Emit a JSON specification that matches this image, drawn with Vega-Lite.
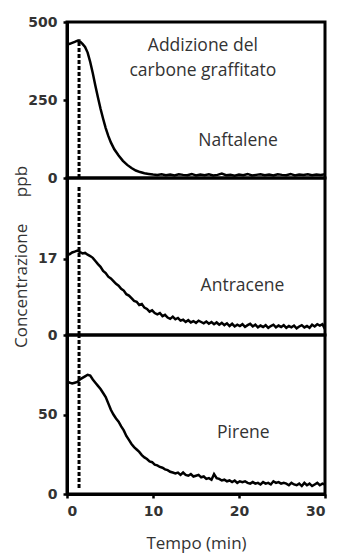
{
  "$schema": "https://vega.github.io/schema/vega-lite/v6.json",
  "padding": {"top": 13, "left": 11, "right": 5, "bottom": 5},
  "background": "white",
  "bounds": "flush",
  "spacing": 0,
  "datasets": {
    "naftalene": [
      {"t": 0, "c": 432}, {"t": 0.3, "c": 430}, {"t": 0.6, "c": 433}, {"t": 0.9, "c": 436},
      {"t": 1.2, "c": 440}, {"t": 1.5, "c": 438}, {"t": 1.8, "c": 430}, {"t": 2.1, "c": 420},
      {"t": 2.4, "c": 402}, {"t": 2.7, "c": 372}, {"t": 3.0, "c": 336}, {"t": 3.3, "c": 296},
      {"t": 3.6, "c": 258}, {"t": 3.9, "c": 222}, {"t": 4.2, "c": 190}, {"t": 4.5, "c": 160},
      {"t": 4.8, "c": 135}, {"t": 5.1, "c": 114}, {"t": 5.5, "c": 92}, {"t": 6.0, "c": 72},
      {"t": 6.5, "c": 55}, {"t": 7.0, "c": 42}, {"t": 7.5, "c": 32}, {"t": 8.0, "c": 24},
      {"t": 8.5, "c": 19}, {"t": 9.0, "c": 15}, {"t": 9.5, "c": 13}, {"t": 10, "c": 11},
      {"t": 10.5, "c": 10}, {"t": 11, "c": 12}, {"t": 11.5, "c": 9}, {"t": 12, "c": 11},
      {"t": 12.5, "c": 8}, {"t": 13, "c": 12}, {"t": 13.5, "c": 10}, {"t": 14, "c": 9},
      {"t": 14.5, "c": 13}, {"t": 15, "c": 8}, {"t": 15.5, "c": 11}, {"t": 16, "c": 9},
      {"t": 16.5, "c": 12}, {"t": 17, "c": 8}, {"t": 17.5, "c": 10}, {"t": 18, "c": 14},
      {"t": 18.5, "c": 9}, {"t": 19, "c": 10}, {"t": 19.5, "c": 7}, {"t": 20, "c": 11},
      {"t": 20.5, "c": 9}, {"t": 21, "c": 13}, {"t": 21.5, "c": 8}, {"t": 22, "c": 10},
      {"t": 22.5, "c": 12}, {"t": 23, "c": 9}, {"t": 23.5, "c": 11}, {"t": 24, "c": 8},
      {"t": 24.5, "c": 12}, {"t": 25, "c": 10}, {"t": 25.5, "c": 9}, {"t": 26, "c": 13},
      {"t": 26.5, "c": 8}, {"t": 27, "c": 11}, {"t": 27.5, "c": 10}, {"t": 28, "c": 12},
      {"t": 28.5, "c": 9}, {"t": 29, "c": 11}, {"t": 29.5, "c": 10}, {"t": 30, "c": 12}
    ],
    "antracene": [
      {"t": 0, "c": 18.3}, {"t": 0.3, "c": 18.0}, {"t": 0.6, "c": 18.4}, {"t": 0.9, "c": 18.6},
      {"t": 1.2, "c": 18.8}, {"t": 1.5, "c": 18.5}, {"t": 1.8, "c": 18.2}, {"t": 2.1, "c": 18.3},
      {"t": 2.4, "c": 17.9}, {"t": 2.7, "c": 17.6}, {"t": 3.0, "c": 17.2}, {"t": 3.3, "c": 16.5},
      {"t": 3.6, "c": 15.8}, {"t": 3.9, "c": 15.2}, {"t": 4.2, "c": 14.3}, {"t": 4.5, "c": 13.8},
      {"t": 4.8, "c": 13.0}, {"t": 5.1, "c": 12.6}, {"t": 5.4, "c": 12.0}, {"t": 5.7, "c": 11.4},
      {"t": 6.0, "c": 11.0}, {"t": 6.3, "c": 10.3}, {"t": 6.6, "c": 9.9}, {"t": 6.9, "c": 9.1},
      {"t": 7.2, "c": 8.8}, {"t": 7.5, "c": 8.2}, {"t": 7.8, "c": 7.6}, {"t": 8.1, "c": 7.4},
      {"t": 8.4, "c": 6.7}, {"t": 8.7, "c": 6.9}, {"t": 9.0, "c": 6.1}, {"t": 9.3, "c": 5.8},
      {"t": 9.6, "c": 5.2}, {"t": 9.9, "c": 5.5}, {"t": 10.2, "c": 4.9}, {"t": 10.5, "c": 4.6},
      {"t": 10.8, "c": 4.9}, {"t": 11.1, "c": 4.2}, {"t": 11.4, "c": 4.5}, {"t": 11.7, "c": 3.9},
      {"t": 12.0, "c": 3.6}, {"t": 12.3, "c": 4.1}, {"t": 12.6, "c": 3.5}, {"t": 12.9, "c": 3.8},
      {"t": 13.2, "c": 3.2}, {"t": 13.5, "c": 3.4}, {"t": 13.8, "c": 2.9}, {"t": 14.1, "c": 3.3},
      {"t": 14.4, "c": 2.8}, {"t": 14.7, "c": 3.1}, {"t": 15.0, "c": 2.7}, {"t": 15.3, "c": 3.2},
      {"t": 15.6, "c": 2.9}, {"t": 15.9, "c": 2.6}, {"t": 16.2, "c": 3.0}, {"t": 16.5, "c": 2.5},
      {"t": 16.8, "c": 2.9}, {"t": 17.1, "c": 2.4}, {"t": 17.4, "c": 2.8}, {"t": 17.7, "c": 2.3},
      {"t": 18.0, "c": 2.7}, {"t": 18.3, "c": 2.2}, {"t": 18.6, "c": 2.6}, {"t": 18.9, "c": 2.0},
      {"t": 19.2, "c": 2.5}, {"t": 19.5, "c": 1.9}, {"t": 19.8, "c": 2.3}, {"t": 20.1, "c": 2.0},
      {"t": 20.4, "c": 2.4}, {"t": 20.7, "c": 1.8}, {"t": 21.0, "c": 2.2}, {"t": 21.3, "c": 2.5},
      {"t": 21.6, "c": 1.9}, {"t": 21.9, "c": 2.3}, {"t": 22.2, "c": 1.7}, {"t": 22.5, "c": 2.1},
      {"t": 22.8, "c": 1.8}, {"t": 23.1, "c": 2.2}, {"t": 23.4, "c": 1.6}, {"t": 23.7, "c": 2.0},
      {"t": 24.0, "c": 2.3}, {"t": 24.3, "c": 1.7}, {"t": 24.6, "c": 2.1}, {"t": 24.9, "c": 1.8},
      {"t": 25.2, "c": 2.2}, {"t": 25.5, "c": 1.6}, {"t": 25.8, "c": 2.0}, {"t": 26.1, "c": 1.7},
      {"t": 26.4, "c": 2.1}, {"t": 26.7, "c": 1.5}, {"t": 27.0, "c": 1.9}, {"t": 27.3, "c": 2.2},
      {"t": 27.6, "c": 1.7}, {"t": 27.9, "c": 2.0}, {"t": 28.2, "c": 1.6}, {"t": 28.5, "c": 2.3},
      {"t": 28.8, "c": 1.9}, {"t": 29.1, "c": 2.4}, {"t": 29.4, "c": 2.1}, {"t": 29.7, "c": 2.4},
      {"t": 30.0, "c": 1.3}
    ],
    "pirene": [
      {"t": 0, "c": 71}, {"t": 0.3, "c": 70}, {"t": 0.6, "c": 69.5}, {"t": 0.9, "c": 70},
      {"t": 1.2, "c": 70.5}, {"t": 1.5, "c": 72}, {"t": 1.8, "c": 73}, {"t": 2.1, "c": 74},
      {"t": 2.4, "c": 75}, {"t": 2.7, "c": 74.5}, {"t": 3.0, "c": 72}, {"t": 3.3, "c": 70},
      {"t": 3.6, "c": 68}, {"t": 3.9, "c": 66}, {"t": 4.2, "c": 63.5}, {"t": 4.5, "c": 61},
      {"t": 4.8, "c": 57}, {"t": 5.1, "c": 53}, {"t": 5.4, "c": 50}, {"t": 5.7, "c": 47.5},
      {"t": 6.0, "c": 45.5}, {"t": 6.3, "c": 42.5}, {"t": 6.6, "c": 40}, {"t": 6.9, "c": 36.5},
      {"t": 7.2, "c": 34}, {"t": 7.5, "c": 31.5}, {"t": 7.8, "c": 29.5}, {"t": 8.1, "c": 28},
      {"t": 8.4, "c": 26.5}, {"t": 8.7, "c": 24.5}, {"t": 9.0, "c": 23}, {"t": 9.3, "c": 22},
      {"t": 9.6, "c": 20.5}, {"t": 9.9, "c": 20}, {"t": 10.2, "c": 18.5}, {"t": 10.5, "c": 18},
      {"t": 10.8, "c": 17}, {"t": 11.1, "c": 16.5}, {"t": 11.4, "c": 15.5}, {"t": 11.7, "c": 15},
      {"t": 12.0, "c": 14}, {"t": 12.3, "c": 13.5}, {"t": 12.6, "c": 13}, {"t": 12.9, "c": 13.5},
      {"t": 13.2, "c": 12}, {"t": 13.5, "c": 13.5}, {"t": 13.8, "c": 12}, {"t": 14.1, "c": 11.5},
      {"t": 14.4, "c": 12.5}, {"t": 14.7, "c": 11}, {"t": 15.0, "c": 11.5}, {"t": 15.3, "c": 12},
      {"t": 15.6, "c": 10.5}, {"t": 15.9, "c": 11}, {"t": 16.2, "c": 9.5}, {"t": 16.5, "c": 10},
      {"t": 16.8, "c": 9}, {"t": 17.1, "c": 12.5}, {"t": 17.4, "c": 10}, {"t": 17.7, "c": 9.5},
      {"t": 18.0, "c": 8.5}, {"t": 18.3, "c": 9}, {"t": 18.6, "c": 8}, {"t": 18.9, "c": 8.5},
      {"t": 19.2, "c": 7.5}, {"t": 19.5, "c": 8.5}, {"t": 19.8, "c": 7}, {"t": 20.1, "c": 8},
      {"t": 20.4, "c": 7.5}, {"t": 20.7, "c": 8}, {"t": 21.0, "c": 7}, {"t": 21.3, "c": 6.5},
      {"t": 21.6, "c": 7.5}, {"t": 21.9, "c": 6.5}, {"t": 22.2, "c": 7}, {"t": 22.5, "c": 6},
      {"t": 22.8, "c": 7.5}, {"t": 23.1, "c": 6.5}, {"t": 23.4, "c": 7}, {"t": 23.7, "c": 6},
      {"t": 24.0, "c": 8}, {"t": 24.3, "c": 7}, {"t": 24.6, "c": 7.5}, {"t": 24.9, "c": 6.5},
      {"t": 25.2, "c": 7}, {"t": 25.5, "c": 6.5}, {"t": 25.8, "c": 5.5}, {"t": 26.1, "c": 7},
      {"t": 26.4, "c": 6}, {"t": 26.7, "c": 5.5}, {"t": 27.0, "c": 6.5}, {"t": 27.3, "c": 5},
      {"t": 27.6, "c": 7}, {"t": 27.9, "c": 5.5}, {"t": 28.2, "c": 6.5}, {"t": 28.5, "c": 5},
      {"t": 28.8, "c": 6}, {"t": 29.1, "c": 7}, {"t": 29.4, "c": 5.5}, {"t": 29.7, "c": 6.5},
      {"t": 30.0, "c": 6}
    ],
    "aggiunta": [
      {"pannello": "naftalene", "t": 1.4, "da": 0, "a": 445},
      {"pannello": "antracene", "t": 1.4, "da": 0, "a": 33},
      {"pannello": "pirene", "t": 1.4, "da": 3.8, "a": 100}
    ],
    "etichette": [
      {"pannello": "naftalene", "t": 15.8, "c": 422, "testo": "Addizione del"},
      {"pannello": "naftalene", "t": 15.8, "c": 342, "testo": "carbone graffitato"},
      {"pannello": "naftalene", "t": 19.9, "c": 118, "testo": "Naftalene"},
      {"pannello": "antracene", "t": 20.4, "c": 11, "testo": "Antracene"},
      {"pannello": "pirene", "t": 20.5, "c": 38.6, "testo": "Pirene"}
    ]
  },
  "vconcat": [
    {
      "width": 258,
      "height": 156,
      "layer": [
        {
          "data": {"name": "aggiunta"},
          "transform": [{"filter": "datum.pannello === 'naftalene'"}],
          "mark": {"type": "rule", "color": "black", "strokeWidth": 3, "strokeDash": [4, 2]},
          "encoding": {
            "x": {"field": "t", "type": "quantitative", "scale": {"domain": [0, 30]}, "axis": null},
            "y": {"field": "da", "type": "quantitative", "scale": {"domain": [0, 500]},
                  "axis": {"values": [0, 250, 500], "title": null}},
            "y2": {"field": "a"}
          }
        },
        {
          "data": {"name": "naftalene"},
          "mark": {"type": "line", "color": "black", "strokeWidth": 2.5},
          "encoding": {
            "x": {"field": "t", "type": "quantitative"},
            "y": {"field": "c", "type": "quantitative"}
          }
        },
        {
          "data": {"name": "etichette"},
          "transform": [{"filter": "datum.pannello === 'naftalene'"}],
          "mark": {"type": "text", "font": "Open Sans", "fontSize": 17.5, "color": "#333"},
          "encoding": {
            "x": {"field": "t", "type": "quantitative"},
            "y": {"field": "c", "type": "quantitative"},
            "text": {"field": "testo"}
          }
        }
      ]
    },
    {
      "width": 258,
      "height": 157,
      "layer": [
        {
          "data": {"name": "aggiunta"},
          "transform": [{"filter": "datum.pannello === 'antracene'"}],
          "mark": {"type": "rule", "color": "black", "strokeWidth": 3, "strokeDash": [4, 2]},
          "encoding": {
            "x": {"field": "t", "type": "quantitative", "scale": {"domain": [0, 30]}, "axis": null},
            "y": {"field": "da", "type": "quantitative", "scale": {"domain": [0, 33]},
                  "axis": {"values": [0, 17], "title": "Concentrazione\u00a0\u00a0\u00a0\u00a0\u00a0\u00a0ppb", "titlePadding": 7}},
            "y2": {"field": "a"}
          }
        },
        {
          "data": {"name": "antracene"},
          "mark": {"type": "line", "color": "black", "strokeWidth": 2.5},
          "encoding": {
            "x": {"field": "t", "type": "quantitative"},
            "y": {"field": "c", "type": "quantitative"}
          }
        },
        {
          "data": {"name": "etichette"},
          "transform": [{"filter": "datum.pannello === 'antracene'"}],
          "mark": {"type": "text", "font": "Open Sans", "fontSize": 17.5, "color": "#333"},
          "encoding": {
            "x": {"field": "t", "type": "quantitative"},
            "y": {"field": "c", "type": "quantitative"},
            "text": {"field": "testo"}
          }
        }
      ]
    },
    {
      "width": 258,
      "height": 159,
      "layer": [
        {
          "data": {"name": "aggiunta"},
          "transform": [{"filter": "datum.pannello === 'pirene'"}],
          "mark": {"type": "rule", "color": "black", "strokeWidth": 3, "strokeDash": [4, 2]},
          "encoding": {
            "x": {"field": "t", "type": "quantitative", "scale": {"domain": [0, 30]},
                  "axis": {"values": [0, 10, 20, 30], "title": "Tempo (min)", "labelPadding": 6, "titlePadding": 17}},
            "y": {"field": "da", "type": "quantitative", "scale": {"domain": [0, 100]},
                  "axis": {"values": [0, 50], "title": null}},
            "y2": {"field": "a"}
          }
        },
        {
          "data": {"name": "pirene"},
          "mark": {"type": "line", "color": "black", "strokeWidth": 2.5},
          "encoding": {
            "x": {"field": "t", "type": "quantitative"},
            "y": {"field": "c", "type": "quantitative"}
          }
        },
        {
          "data": {"name": "etichette"},
          "transform": [{"filter": "datum.pannello === 'pirene'"}],
          "mark": {"type": "text", "font": "Open Sans", "fontSize": 17.5, "color": "#333"},
          "encoding": {
            "x": {"field": "t", "type": "quantitative"},
            "y": {"field": "c", "type": "quantitative"},
            "text": {"field": "testo"}
          }
        }
      ]
    }
  ],
  "config": {
    "concat": {"spacing": 0},
    "view": {"stroke": "black", "strokeWidth": 3},
    "axis": {
      "grid": false,
      "domainColor": "black",
      "domainWidth": 3,
      "tickColor": "black",
      "tickWidth": 2.5,
      "tickSize": 4,
      "labelFont": "DejaVu Sans",
      "labelFontWeight": "bold",
      "labelFontSize": 14,
      "labelColor": "#333",
      "labelPadding": 6,
      "titleFont": "Open Sans",
      "titleFontWeight": "normal",
      "titleFontSize": 17,
      "titleColor": "#333"
    }
  }
}
